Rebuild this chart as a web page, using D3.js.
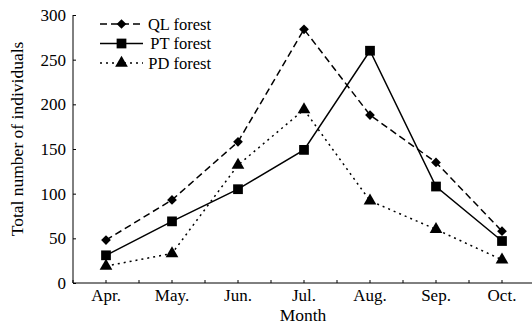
<!DOCTYPE html>
<html lang="en">
<head>
<meta charset="UTF-8">
<title>Total number of individuals by month</title>
<script src="https://cdnjs.cloudflare.com/ajax/libs/d3/7.8.5/d3.min.js"></script>
<style>
    body { margin: 0; background: #fff; }
    svg { display: block; }
</style>
</head>
<body>
<div id="chart"></div>
<script>
// data
const months = ["Apr.", "May.", "Jun.", "Jul.", "Aug.", "Sep.", "Oct."];
const qlForest = [48, 93, 158, 284, 188, 135, 58];
const ptForest = [31, 69, 105, 149, 260, 108, 47];
const pdForest = [19, 33, 132, 194, 92, 60, 26];
const yTicks = [0, 50, 100, 150, 200, 250, 300];

const series = [
    { name: "QL forest", values: qlForest, dash: "7,4", symbol: d3.symbolDiamond2 || d3.symbolDiamond, size: 60 },
    { name: "PT forest", values: ptForest, dash: null, symbol: d3.symbolSquare, size: 95 },
    { name: "PD forest", values: pdForest, dash: "2,4", symbol: d3.symbolTriangle, size: 70 }
];

const FONT = "'Liberation Serif', 'Times New Roman', serif";
const width = 532, height = 326;
const mLeft = 73, mTop = 15, mBottom = 283;

const svg = d3.select("#chart").append("svg")
    .attr("width", width)
    .attr("height", height)
    .attr("font-family", FONT);

const x = d3.scaleBand().domain(months).range([mLeft, mLeft + 66 * months.length]).padding(0);
const y = d3.scaleLinear().domain([0, 300]).range([mBottom, mTop]);
const cx = m => x(m) + x.bandwidth() / 2;

// x axis: labels at month centres, minor ticks at band edges
const xAxis = svg.append("g").attr("transform", `translate(0,${mBottom})`);
xAxis.append("line").attr("x1", mLeft).attr("x2", width).attr("y1", 0).attr("y2", 0).attr("stroke", "#000");
const tickPos = [];
months.forEach(m => {
    tickPos.push(x(m));
    tickPos.push(cx(m));
});
xAxis.selectAll(".tk").data(tickPos).enter().append("line")
    .attr("x1", d => d).attr("x2", d => d)
    .attr("y1", 0).attr("y2", -3)
    .attr("stroke", "#000");
xAxis.selectAll(".lbl").data(months).enter().append("text")
    .attr("x", d => cx(d))
    .attr("y", 18)
    .attr("text-anchor", "middle")
    .attr("font-family", FONT)
    .attr("font-size", 17)
    .attr("fill", "#000")
    .text(d => d);

// y axis, ticks inward
const yAxis = svg.append("g").attr("transform", `translate(${mLeft},0)`)
    .call(d3.axisLeft(y).tickValues(yTicks).tickSizeInner(-3).tickSizeOuter(0).tickPadding(6));
yAxis.attr("font-family", FONT).attr("font-size", 17);
yAxis.select(".domain").attr("d", `M0,${mTop}V${mBottom}`).attr("stroke", "#000");
yAxis.selectAll(".tick line").attr("stroke", "#000");
yAxis.selectAll(".tick text").attr("fill", "#000").attr("x", -7);

svg.append("text")
    .attr("transform", "translate(23,139) rotate(-90)")
    .attr("text-anchor", "middle")
    .attr("font-size", 17.5)
    .text("Total number of individuals");

svg.append("text")
    .attr("x", 303).attr("y", 321)
    .attr("text-anchor", "middle")
    .attr("font-size", 17.5)
    .text("Month");

const line = d3.line()
    .x((d, i) => cx(months[i]))
    .y(d => y(d));

series.forEach(s => {
    svg.append("path")
        .datum(s.values)
        .attr("fill", "none")
        .attr("stroke", "#000")
        .attr("stroke-width", 1.5)
        .attr("stroke-dasharray", s.dash)
        .attr("d", line);
    svg.selectAll(null).data(s.values).enter().append("path")
        .attr("d", d3.symbol().type(s.symbol).size(s.size))
        .attr("transform", (d, i) => `translate(${cx(months[i])},${y(d)})`)
        .attr("fill", "#000");
});

// legend
const legend = svg.append("g");
series.forEach((s, i) => {
    const ly = 24 + i * 19.5;
    legend.append("line")
        .attr("x1", 100).attr("x2", 143)
        .attr("y1", ly).attr("y2", ly)
        .attr("stroke", "#000").attr("stroke-width", 1.5)
        .attr("stroke-dasharray", s.dash);
    legend.append("path")
        .attr("d", d3.symbol().type(s.symbol).size(s.size))
        .attr("transform", `translate(121.5,${ly})`)
        .attr("fill", "#000");
    legend.append("text")
        .attr("x", 211).attr("y", ly)
        .attr("dy", "0.35em")
        .attr("text-anchor", "end")
        .attr("font-size", 16.5)
        .text(s.name);
});
</script>
</body>
</html>
